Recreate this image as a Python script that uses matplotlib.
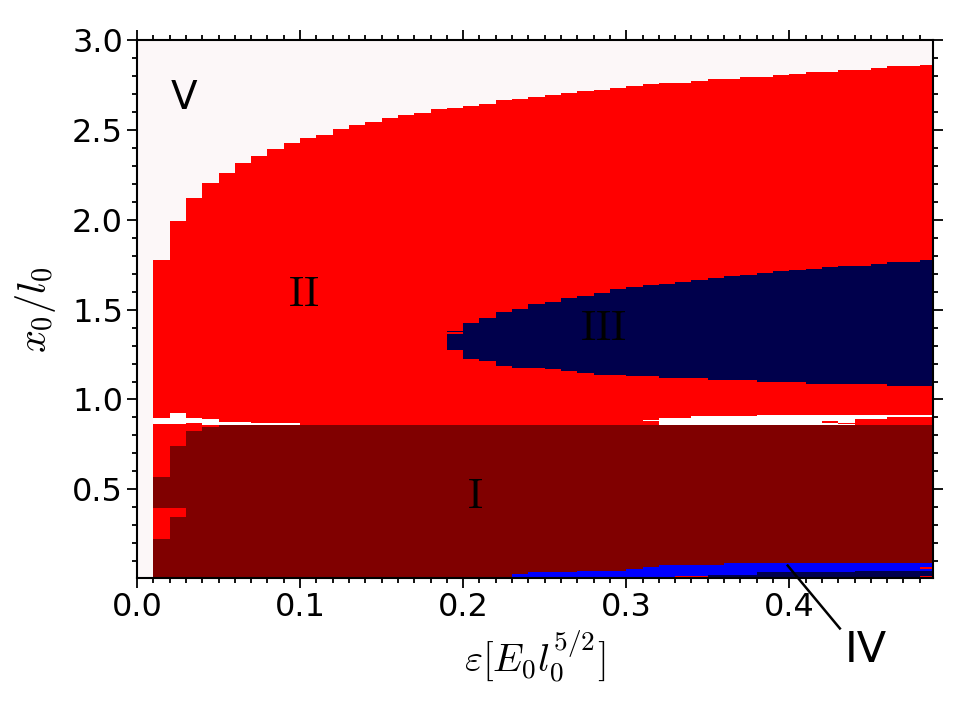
import matplotlib
matplotlib.use("Agg")
import matplotlib.pyplot as plt
import numpy as np

plt.rcParams['mathtext.fontset'] = 'cm'
plt.rcParams['font.family'] = ['DejaVu Sans']

# ---- data ----
# column left edges in epsilon
eps = [0.01, 0.02, 0.03, 0.04, 0.05, 0.06, 0.07, 0.08, 0.09, 0.10,
       0.11, 0.12, 0.13, 0.14, 0.15, 0.16, 0.17, 0.18, 0.19, 0.20,
       0.21, 0.22, 0.23, 0.24, 0.25, 0.26, 0.27, 0.28, 0.29, 0.30,
       0.31, 0.32, 0.33, 0.34, 0.35, 0.36, 0.37, 0.38, 0.39, 0.40,
       0.41, 0.42, 0.43, 0.44, 0.45, 0.46, 0.47, 0.48]
# upper boundary of region II (border with region V)
ii_top = [1.776, 1.994, 2.124, 2.204, 2.263, 2.315, 2.354, 2.394, 2.426, 2.454,
          2.474, 2.504, 2.526, 2.546, 2.565, 2.583, 2.596, 2.615, 2.624, 2.637,
          2.646, 2.665, 2.676, 2.687, 2.698, 2.706, 2.717, 2.726, 2.737, 2.746,
          2.756, 2.765, 2.765, 2.776, 2.785, 2.785, 2.796, 2.796, 2.806, 2.815,
          2.826, 2.826, 2.835, 2.835, 2.846, 2.856, 2.856, 2.865]

# region III (island) columns
iii_eps = [0.19, 0.20, 0.21, 0.22, 0.23, 0.24, 0.25, 0.26, 0.27, 0.28,
           0.29, 0.30, 0.31, 0.32, 0.33, 0.34, 0.35, 0.36, 0.37, 0.38,
           0.39, 0.40, 0.41, 0.42, 0.43, 0.44, 0.45, 0.46, 0.47, 0.48]
iii_lo = [1.276, 1.226, 1.217, 1.185, 1.176, 1.176, 1.167, 1.157, 1.148, 1.139,
          1.139, 1.128, 1.128, 1.119, 1.119, 1.119, 1.107, 1.107, 1.107, 1.096,
          1.096, 1.096, 1.087, 1.087, 1.087, 1.087, 1.087, 1.076, 1.076, 1.076]
iii_hi = [1.383, 1.426, 1.454, 1.485, 1.504, 1.531, 1.544, 1.563, 1.574, 1.594,
          1.613, 1.624, 1.635, 1.644, 1.654, 1.667, 1.676, 1.685, 1.694, 1.706,
          1.715, 1.719, 1.728, 1.739, 1.744, 1.744, 1.754, 1.767, 1.767, 1.776]
# region III at the bottom (below IV)
iii_b_eps = [0.35, 0.36, 0.37, 0.38, 0.39, 0.40, 0.41, 0.42, 0.43,
             0.44, 0.45, 0.46, 0.47, 0.48]
iii_b_hi = [0.022, 0.022, 0.022, 0.039, 0.039, 0.039, 0.039, 0.039, 0.039,
            0.045, 0.045, 0.045, 0.045, 0.045]

# region I segments (column, lower, upper)
i_eps = [0.01, 0.01, 0.02, 0.02, 0.03, 0.04, 0.05, 0.06, 0.07, 0.08, 0.09,
         0.10, 0.11, 0.12, 0.13, 0.14, 0.15, 0.16, 0.17, 0.18, 0.19, 0.20,
         0.21, 0.22, 0.23, 0.24, 0.25, 0.26, 0.27, 0.28, 0.29, 0.30, 0.31,
         0.32, 0.33, 0.34, 0.35, 0.36, 0.37, 0.38, 0.39, 0.40, 0.41, 0.42,
         0.43, 0.44, 0.45, 0.46, 0.47, 0.48]
i_lo = [0.0, 0.394, 0.0, 0.394] + [0.0] * 46
i_hi = [0.222, 0.567, 0.346, 0.741, 0.822, 0.848] + [0.857] * 44

# unclassified (white) strip between I and II
gap_eps = [0.01, 0.02, 0.03, 0.04, 0.05, 0.06, 0.07, 0.08, 0.09,
           0.31, 0.32, 0.33, 0.34, 0.35, 0.36, 0.37, 0.38, 0.39, 0.40,
           0.41, 0.42, 0.43, 0.44, 0.45, 0.46, 0.47, 0.48]
gap_lo = [0.865, 0.865, 0.870, 0.860, 0.858, 0.858, 0.857, 0.857, 0.857,
          0.880, 0.857, 0.857, 0.857, 0.857, 0.857, 0.857, 0.857, 0.857, 0.857,
          0.857, 0.857, 0.857, 0.890, 0.890, 0.900, 0.900, 0.900]
gap_hi = [0.898, 0.926, 0.895, 0.889, 0.876, 0.876, 0.868, 0.868, 0.868,
          0.887, 0.896, 0.896, 0.906, 0.906, 0.906, 0.906, 0.915, 0.915, 0.915,
          0.915, 0.915, 0.915, 0.915, 0.915, 0.915, 0.915, 0.915]

# region IV (bottom band)
iv_eps = [0.23, 0.24, 0.25, 0.26, 0.27, 0.28, 0.29, 0.30, 0.31, 0.32,
          0.33, 0.34, 0.35, 0.36, 0.37, 0.38, 0.39, 0.40, 0.41, 0.42,
          0.43, 0.44, 0.45, 0.46, 0.47, 0.48]
iv_hi = [0.028, 0.037, 0.037, 0.037, 0.046, 0.046, 0.046, 0.056, 0.065, 0.076,
         0.076, 0.076, 0.076, 0.087, 0.087, 0.087, 0.087, 0.087, 0.087, 0.087,
         0.087, 0.087, 0.087, 0.087, 0.087, 0.087]
iv_lo = 0.012

# thin region-II slivers inside other regions
sl_eps = [0.19, 0.42, 0.43, 0.33, 0.34, 0.48, 0.48]
sl_lo = [1.365, 0.869, 0.863, 0.011, 0.011, 0.011, 0.058]
sl_hi = [1.374, 0.878, 0.871, 0.017, 0.017, 0.017, 0.066]

col_V = '#fcf7f8'
col_I = '#800000'
col_II = '#ff0000'
col_III = '#00004c'
col_IV = '#0000ff'
W = 0.01

fig = plt.figure(figsize=(9.6, 7.2), dpi=100)
ax = fig.add_axes([0.1427, 0.197, 0.829, 0.747])
ax.set_facecolor(col_V)

def seg(x, lo, hi, c, z):
    lo = np.broadcast_to(np.asarray(lo, float), (len(x),))
    hi = np.asarray(hi, float)
    ax.bar(x, hi - lo, bottom=lo, width=W, align='edge', color=c,
           linewidth=0, zorder=z)

seg(eps, 0.0, ii_top, col_II, 1)
seg(gap_eps, gap_lo, gap_hi, '#ffffff', 2)
seg(i_eps, i_lo, i_hi, col_I, 3)
seg(iii_eps, iii_lo, iii_hi, col_III, 4)
seg(iv_eps, iv_lo, iv_hi, col_IV, 4)
seg(iii_b_eps, 0.0, iii_b_hi, col_III, 5)
seg(sl_eps, sl_lo, sl_hi, col_II, 6)

ax.set_xlim(0.0, 0.488)
ax.set_ylim(0.005, 3.0)
ax.set_xticks([0.0, 0.1, 0.2, 0.3, 0.4])
ax.set_xticklabels(['0.0', '0.1', '0.2', '0.3', '0.4'])
ax.set_yticks([0.5, 1.0, 1.5, 2.0, 2.5, 3.0])
ax.set_yticklabels(['0.5', '1.0', '1.5', '2.0', '2.5', '3.0'])
ax.xaxis.set_minor_locator(matplotlib.ticker.MultipleLocator(0.01))
ax.yaxis.set_minor_locator(matplotlib.ticker.MultipleLocator(0.1))
ax.tick_params(which='both', direction='out', top=True, right=True,
               labeltop=False, labelright=False, width=1.3)
ax.tick_params(which='major', length=7, labelsize=23, pad=3)
ax.tick_params(which='minor', length=3.5)
for s in ax.spines.values():
    s.set_linewidth(1.5)
    s.set_zorder(10)

ax.set_xlabel(r'$\varepsilon[E_0l_0^{5/2}]$', fontsize=28, labelpad=4)
ax.set_ylabel(r'$x_0/l_0$', fontsize=29, labelpad=10)

ax.text(0.029, 2.68, 'V', fontsize=28, ha='center', va='center', zorder=12)
ax.text(0.102, 1.59, r'$\mathrm{II}$', fontsize=30, ha='center', va='center', zorder=12)
ax.text(0.286, 1.40, r'$\mathrm{III}$', fontsize=30, ha='center', va='center', zorder=12)
ax.text(0.207, 0.46, r'$\mathrm{I}$', fontsize=30, ha='center', va='center', zorder=12)
ax.plot([0.399, 0.431], [0.075, -0.275], color='black', lw=1.8,
        clip_on=False, zorder=12)
ax.text(0.447, -0.395, 'IV', fontsize=31, ha='center', va='center',
        clip_on=False, zorder=12)

fig.savefig('out.png', dpi=100)
